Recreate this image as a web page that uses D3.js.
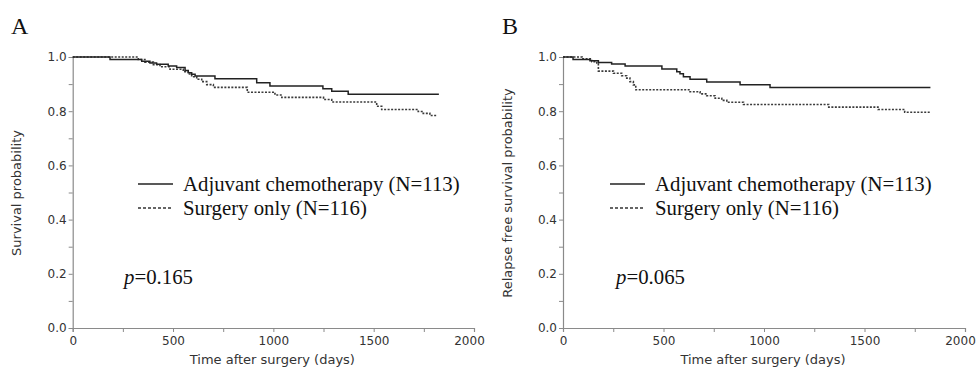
<!DOCTYPE html>
<html><head><meta charset="utf-8">
<script src="https://cdn.jsdelivr.net/npm/d3@7"></script>
<style>
html,body{margin:0;padding:0;background:#fff;}
svg{display:block;}
</style></head>
<body>
<svg id="chart" width="977" height="369"></svg>
<script>
// ---- data ----
const xTicks = [0, 500, 1000, 1500, 2000];
const yTicks = [0.0, 0.2, 0.4, 0.6, 0.8, 1.0];
const legendLabels = ["Adjuvant chemotherapy (N=113)", "Surgery only (N=116)"];

// Panel A: overall survival
const aAdjTime = [0, 186, 344, 385, 418, 476, 518, 560, 576, 593, 610, 709, 917, 983, 1247, 1291, 1373, 1825];
const aAdjSurv = [1.000, 0.991, 0.984, 0.978, 0.973, 0.967, 0.961, 0.950, 0.942, 0.936, 0.930, 0.920, 0.905, 0.893, 0.883, 0.874, 0.863, 0.863];
const aSurTime = [0, 327, 360, 402, 435, 485, 551, 576, 593, 618, 643, 668, 701, 870, 1008, 1042, 1250, 1291, 1515, 1540, 1722, 1747, 1780, 1814];
const aSurSurv = [1.000, 0.991, 0.981, 0.972, 0.964, 0.955, 0.946, 0.937, 0.927, 0.918, 0.909, 0.898, 0.888, 0.870, 0.860, 0.851, 0.843, 0.834, 0.818, 0.806, 0.799, 0.792, 0.784, 0.784];

// Panel B: relapse free survival
const bAdjTime = [0, 50, 134, 176, 242, 309, 492, 566, 582, 599, 632, 715, 881, 1030, 1828];
const bAdjSurv = [1.000, 0.991, 0.986, 0.980, 0.974, 0.967, 0.956, 0.946, 0.938, 0.927, 0.918, 0.908, 0.898, 0.887, 0.887];
const bSurTime = [0, 95, 143, 168, 176, 251, 292, 317, 333, 350, 362, 632, 682, 715, 757, 790, 815, 898, 1322, 1567, 1700, 1828];
const bSurSurv = [1.000, 0.993, 0.983, 0.975, 0.948, 0.940, 0.931, 0.922, 0.909, 0.897, 0.879, 0.872, 0.864, 0.857, 0.848, 0.840, 0.833, 0.825, 0.815, 0.806, 0.796, 0.796];

const panels = [
  {label: "A", yTitle: "Survival probability", p: "0.165",
   x0: 72.7, x1: 474, adj: [aAdjTime, aAdjSurv], sur: [aSurTime, aSurSurv],
   labelX: 11, titleX: 17, legX: 138, pX: 124},
  {label: "B", yTitle: "Relapse free survival probability", p: "0.065",
   x0: 563, x1: 965, adj: [bAdjTime, bAdjSurv], sur: [bSurTime, bSurSurv],
   labelX: 502, titleX: 508, legX: 610, pX: 616}
];

const svg = d3.select("#chart");
const axisColor = "#8a8a8a";
const tickText = "#333";
const sansFont = "'DejaVu Sans', Verdana, sans-serif";
const serifFont = "'Liberation Serif', 'Times New Roman', serif";
const yTop = 57, yBot = 328;

panels.forEach(P => {
  const g = svg.append("g");
  const x = d3.scaleLinear().domain([0, 2000]).range([P.x0, P.x1]);
  const y = d3.scaleLinear().domain([0, 1]).range([yBot, yTop]);

  // x axis (minor ticks every 250)
  const xa = g.append("g").attr("transform", `translate(0,${yBot})`)
    .call(d3.axisBottom(x).tickValues(d3.range(0, 2001, 250)).tickSize(4)
      .tickFormat(d => xTicks.includes(d) ? d3.format("d")(d) : ""));
  // y axis (minor ticks every 0.1)
  const ya = g.append("g").attr("transform", `translate(${P.x0},0)`)
    .call(d3.axisLeft(y).tickValues(d3.range(0, 11).map(i => i / 10)).tickSize(4)
      .tickFormat(d => yTicks.some(v => Math.abs(v - d) < 1e-9) ? d3.format(".1f")(d) : ""));
  [xa, ya].forEach(a => {
    a.select(".domain").attr("stroke", axisColor).attr("stroke-width", 1.2);
    a.selectAll(".tick line").attr("stroke", axisColor);
    a.selectAll("text").attr("fill", tickText).attr("font-size", 12).attr("font-family", sansFont);
  });
  ya.selectAll("text").attr("x", -6);
  xa.selectAll("text").attr("y", 8).attr("dx", d => d === 2000 ? -5 : 0);

  // axis titles
  g.append("text").attr("x", (P.x0 + P.x1) / 2 - 1).attr("y", 364)
    .attr("text-anchor", "middle").attr("font-family", sansFont).attr("font-size", 13)
    .attr("fill", tickText).text("Time after surgery (days)");
  g.append("text").attr("transform", `translate(${P.titleX},193) rotate(-90)`)
    .attr("text-anchor", "middle").attr("dominant-baseline", "middle")
    .attr("font-family", sansFont).attr("font-size", 13)
    .attr("fill", tickText).text(P.yTitle);

  // panel label
  g.append("text").attr("x", P.labelX).attr("y", 34)
    .attr("font-family", serifFont).attr("font-size", 24).attr("fill", "#111").text(P.label);

  // curves
  const line = d3.line().curve(d3.curveStepAfter).x(d => x(d[0])).y(d => y(d[1]));
  const adjPts = P.adj[0].map((t, i) => [t, P.adj[1][i]]);
  const surPts = P.sur[0].map((t, i) => [t, P.sur[1][i]]);
  g.append("path").datum(surPts).attr("d", line).attr("fill", "none")
    .attr("stroke", "#3a3a3a").attr("stroke-width", 1.6).attr("stroke-dasharray", "2,1.5");
  g.append("path").datum(adjPts).attr("d", line).attr("fill", "none")
    .attr("stroke", "#222").attr("stroke-width", 1.5);

  // legend
  const ly = [184, 208];
  g.append("line").attr("x1", P.legX).attr("x2", P.legX + 35).attr("y1", ly[0]).attr("y2", ly[0])
    .attr("stroke", "#222").attr("stroke-width", 1.3);
  g.append("line").attr("x1", P.legX).attr("x2", P.legX + 35).attr("y1", ly[1]).attr("y2", ly[1])
    .attr("stroke", "#333").attr("stroke-width", 1.3).attr("stroke-dasharray", "3,2");
  legendLabels.forEach((lab, i) => {
    g.append("text").attr("x", P.legX + 45).attr("y", ly[i] + 7)
      .attr("font-family", serifFont).attr("font-size", 20.8).attr("fill", "#111").text(lab);
  });

  // p value
  const pt = g.append("text").attr("x", P.pX).attr("y", 284)
    .attr("font-family", serifFont).attr("font-size", 20.8).attr("fill", "#111");
  pt.append("tspan").attr("font-style", "italic").text("p");
  pt.append("tspan").text("=" + P.p);
});
</script>
</body></html>
